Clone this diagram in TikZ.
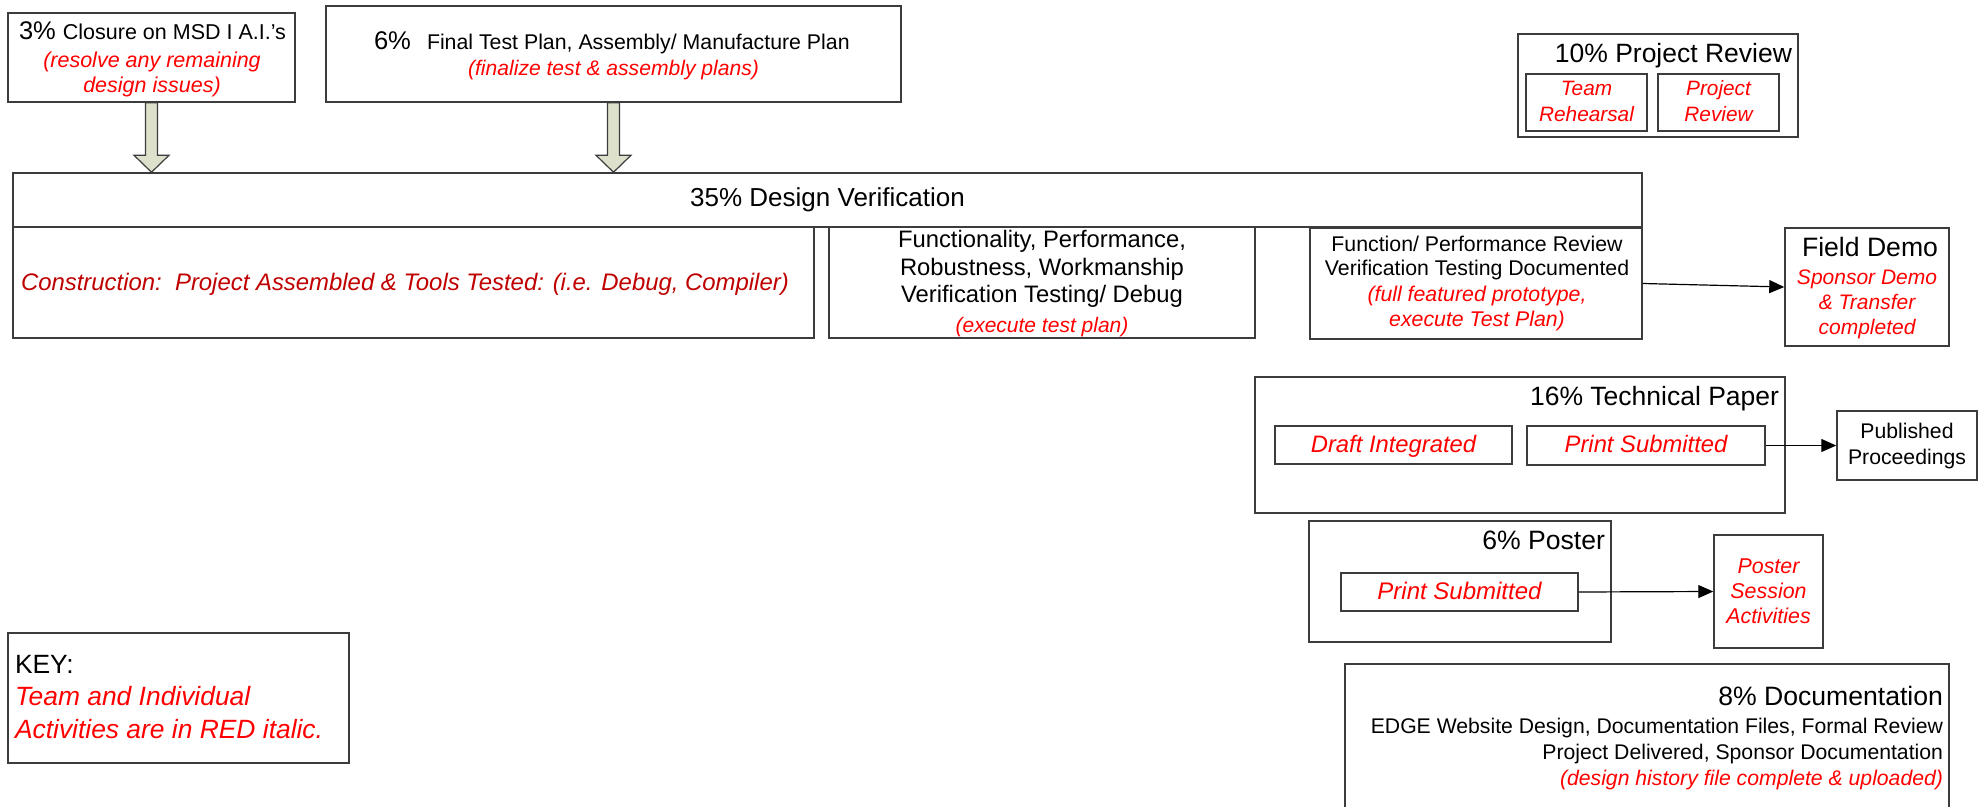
\documentclass[tikz,border=0pt]{standalone}
\usepackage{fontspec}
\setmainfont{Liberation Sans}
\usetikzlibrary{calc,fit,arrows.meta}
\definecolor{rd}{HTML}{FF0000}
\definecolor{drd}{HTML}{C00000}
\definecolor{ln}{HTML}{3C3C3C}
\definecolor{olv}{HTML}{DDE1CB}
\newcommand\myfs[2]{\fontsize{#1pt}{#2pt}\selectfont}
\begin{document}
\begin{tikzpicture}[x=0.5pt,y=-0.5pt,
  box/.style={draw=ln, line width=0.75pt, inner sep=0pt, fill=white},
  tx/.style={inner sep=0pt, outer sep=0pt, anchor=base, align=center},
  red/.style={text=rd},
  barrow/.style={draw=ln, line width=0.6pt, fill=olv, line join=miter},
  conn/.style={draw=black, line width=0.6pt, -{Triangle[length=7.5pt,width=6.5pt]}}
]
\useasboundingbox (0,0) rectangle (1979,807);

% boxes
\node[box, fit={(8,13) (295,102)}] (b3) {};
\node[box, fit={(326,6) (901,102)}] (b6) {};
\node[box, fit={(13,173) (1642,227)}] (dv) {};
\node[box, fit={(13,227) (814,338)}] (con) {};
\node[box, fit={(829,227) (1255,338)}] (fun) {};
\node[box, fit={(1310,228) (1642,339)}] (fpr) {};
\node[box, fit={(1785,228) (1949,346)}] (fd) {};
\node[box, fit={(1518,34) (1798,137)}] (pr) {};
\node[box, fit={(1526,74) (1647,131)}] (tr) {};
\node[box, fit={(1658,74) (1779,131)}] (prv) {};
\node[box, fit={(1255,377) (1785,513)}] (tp) {};
\node[box, fit={(1275,426) (1512,464)}] (di) {};
\node[box, fit={(1527,426) (1765,465)}] (ps1) {};
\node[box, fit={(1837,411) (1977,480)}] (pub) {};
\node[box, fit={(1309,521) (1611,642)}] (po) {};
\node[box, fit={(1341,573) (1578,611)}] (ps2) {};
\node[box, fit={(1714,535) (1823,648)}] (psa) {};
\node[box, fit={(1345,664) (1949,815)}] (doc) {};
\node[box, fit={(8,633) (349,763)}] (key) {};

% block arrows
\coordinate (a1s) at (b3.south);
\coordinate (a1t) at (b3.south |- dv.north);
\coordinate (a2s) at (b6.south);
\coordinate (a2t) at (b6.south |- dv.north);
\draw[barrow] ($(a1s)+(-6,0)$) -- ($(a1t)+(-6,-17)$) -- ($(a1t)+(-17.5,-17)$) -- (a1t) -- ($(a1t)+(17.5,-17)$) -- ($(a1t)+(6,-17)$) -- ($(a1s)+(6,0)$) -- cycle;
\draw[barrow] ($(a2s)+(-6,0)$) -- ($(a2t)+(-6,-17)$) -- ($(a2t)+(-17.5,-17)$) -- (a2t) -- ($(a2t)+(17.5,-17)$) -- ($(a2t)+(6,-17)$) -- ($(a2s)+(6,0)$) -- cycle;

% texts (multi-line nodes: base = baseline of last line)
\node[tx] (t3a) at (152.5,40) {\myfs{12.75}{15}3\% \myfs{10.75}{13}Closure on MSD I A.I.’s};
\node[tx, red, font=\myfs{10.75}{12.5}\itshape] (t3b) at (152,93) {(resolve any remaining\\design issues)};
\node[tx, anchor=base west] (t6a) at (374,50) {\myfs{12.8}{15}6\%\hspace{8pt}\myfs{10.65}{13}Final Test Plan, Assembly/ Manufacture Plan};
\node[tx, red, font=\myfs{10.55}{12.5}\itshape] (t6b) at (613.5,76) {(finalize test \& assembly plans)};

\node[tx, anchor=center, font=\myfs{13}{15}] (tdv) at (dv.center) {35\% Design Verification};
\node[tx, anchor=base west, text=drd, font=\myfs{11.95}{14}\itshape] (tcon) at (21,291) {Construction:\ \ Project Assembled \& Tools Tested: (i.e. Debug, Compiler)};
\node[tx, font=\myfs{11.9}{13.9}] (tfun) at (1042,303) {Functionality, Performance,\\Robustness, Workmanship\\Verification Testing/ Debug};
\node[tx, red, font=\myfs{10.5}{12.5}\itshape] (tfunr) at (1042,333) {(execute test plan)};
\node[tx, font=\myfs{10.65}{12}] (tfp) at (1477,276) {Function/ Performance Review\\Verification Testing Documented};
\node[tx, red, font=\myfs{10.65}{12.5}\itshape] (tfpr) at (1477,327) {(full featured prototype,\\execute Test Plan)};
\node[tx, font=\myfs{13.3}{15}] (tfd) at (1870,257) {Field Demo};
\node[tx, red, font=\myfs{10.5}{12.7}\itshape] (tfdr) at (1867,335) {Sponsor Demo\\\& Transfer\\completed};

\node[tx, anchor=base east, font=\myfs{13.25}{15}] (tpr) at (1792,63) {10\% Project Review};
\node[tx, red, font=\myfs{10.4}{13}\itshape] (ttr) at (1586.5,122) {Team\\Rehearsal};
\node[tx, red, font=\myfs{10.4}{13}\itshape] (tprv) at (1718.5,122) {Project\\Review};

\node[tx, anchor=base east, font=\myfs{13.25}{15}] (ttp) at (1779,405) {16\% Technical Paper};
\node[tx, red, font=\myfs{11.9}{14}\itshape] (tdi) at (1393.5,452) {Draft Integrated};
\node[tx, red, font=\myfs{11.9}{14}\itshape] (tps1) at (1646,452) {Print Submitted};
\node[tx, font=\myfs{10.6}{13}] (tpub) at (1907,464) {Published\\Proceedings};

\node[tx, anchor=base east, font=\myfs{13.3}{15}] (tpo) at (1605,549) {6\% Poster};
\node[tx, red, font=\myfs{12}{14}\itshape] (tps2) at (1459.5,599) {Print Submitted};
\node[tx, red, font=\myfs{10.7}{12.5}\itshape] (tpsa) at (1768.5,623) {Poster\\Session\\Activities};

\node[tx, anchor=base east, align=right, font=\myfs{13.3}{15}] (tdoc) at (1943,705) {8\% Documentation};
\node[tx, anchor=base east, align=right, font=\myfs{10.6}{13}] (tdoc2) at (1943,759) {EDGE Website Design, Documentation Files, Formal Review\\Project Delivered, Sponsor Documentation};
\node[tx, anchor=base east, red, font=\myfs{10.6}{13}\itshape] (tdoc3) at (1943,785) {(design history file complete \& uploaded)};

\node[tx, anchor=base west, align=left, font=\myfs{13.2}{16}] (tkey) at (15,673) {KEY:};
\node[tx, anchor=base west, align=left, red, font=\myfs{13.2}{16.4}\itshape] (tkeyr) at (15,738) {Team and Individual\\Activities are in RED italic.};

% connectors
\draw[conn] (fpr.east) -- (fd.west);
\draw[conn] (ps1.east) -- (pub.west);
\draw[conn] (ps2.east) -- (psa.west);
\end{tikzpicture}
\end{document}
